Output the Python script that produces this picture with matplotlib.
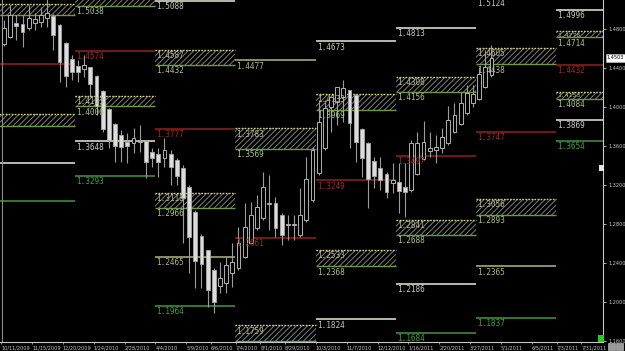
import matplotlib
matplotlib.use('Agg')
import matplotlib.pyplot as plt
from matplotlib.patches import Rectangle
import matplotlib.transforms as mtransforms

plt.rcParams['hatch.linewidth'] = 0.7

# ---------------- data ----------------
# weekly candles (EUR/USD style), index 0 = week of 10/11/2009
opens = [1.4646, 1.4718, 1.4861, 1.4851, 1.4810, 1.4861, 1.4871, 1.4912, 1.4933, 1.4841,
         1.4656, 1.4492, 1.4420, 1.4389, 1.4410, 1.4318, 1.4164, 1.3979, 1.3825, 1.3712,
         1.3641, 1.3630, 1.3641, 1.3651, 1.3538, 1.3518, 1.3477, 1.3518, 1.3456, 1.3374,
         1.3179, 1.2923, 1.2677, 1.2533, 1.2328, 1.2164, 1.2194, 1.2297, 1.2348, 1.2461,
         1.2605, 1.2759, 1.2861, 1.3005, 1.3015, 1.2892, 1.2790, 1.2790, 1.2687, 1.2841,
         1.3046, 1.3323, 1.3579, 1.4000, 1.4056, 1.4107, 1.4179, 1.4118, 1.3774, 1.3630,
         1.3446, 1.3374, 1.3313, 1.3220, 1.3230, 1.3179, 1.3149, 1.3313, 1.3466, 1.3549,
         1.3559, 1.3579, 1.3630, 1.3744, 1.3825, 1.3938, 1.4041, 1.4082, 1.4205, 1.4328]
highs = [1.4892, 1.5046, 1.4943, 1.4943, 1.5046, 1.4964, 1.5025, 1.5149, 1.4954, 1.4851,
         1.4666, 1.4533, 1.4482, 1.4533, 1.4410, 1.4328, 1.4174, 1.3989, 1.3836, 1.3764,
         1.3733, 1.3784, 1.3815, 1.3661, 1.3579, 1.3579, 1.3682, 1.3559, 1.3477, 1.3405,
         1.3200, 1.2943, 1.2697, 1.2533, 1.2348, 1.2410, 1.2461, 1.2605, 1.2769, 1.3015,
         1.3025, 1.3097, 1.3333, 1.3302, 1.3077, 1.2913, 1.2892, 1.2892, 1.3169, 1.3487,
         1.3589, 1.4071, 1.4071, 1.4020, 1.4071, 1.4276, 1.4000, 1.4118, 1.3784, 1.3641,
         1.3487, 1.3487, 1.3333, 1.3425, 1.3425, 1.3425, 1.3661, 1.3743, 1.3856, 1.3743,
         1.3713, 1.3784, 1.4010, 1.4041, 1.4154, 1.4225, 1.4225, 1.4410, 1.4584, 1.4636]
lows = [1.4626, 1.4707, 1.4687, 1.4615, 1.4790, 1.4790, 1.4820, 1.4820, 1.4584, 1.4256,
        1.4205, 1.4277, 1.4256, 1.4307, 1.4102, 1.3917, 1.3743, 1.3579, 1.3435, 1.3435,
        1.3425, 1.3528, 1.3538, 1.3271, 1.3384, 1.3282, 1.3384, 1.3200, 1.3200, 1.2610,
        1.2297, 1.2143, 1.2143, 1.1948, 1.1887, 1.2092, 1.2092, 1.2153, 1.2328, 1.2451,
        1.2605, 1.2738, 1.2841, 1.2738, 1.2667, 1.2584, 1.2636, 1.2636, 1.2667, 1.2820,
        1.3025, 1.3302, 1.3559, 1.3743, 1.3815, 1.3846, 1.3579, 1.3436, 1.3282, 1.2964,
        1.3169, 1.3149, 1.3066, 1.3118, 1.2913, 1.2872, 1.3128, 1.3302, 1.3456, 1.3487,
        1.3425, 1.3528, 1.3610, 1.3733, 1.3815, 1.3918, 1.4000, 1.4071, 1.4195, 1.4307]
closes = [1.4810, 1.4943, 1.4830, 1.4769, 1.4912, 1.4902, 1.4943, 1.4964, 1.4738, 1.4461,
          1.4318, 1.4359, 1.4359, 1.4430, 1.4236, 1.4010, 1.3774, 1.3661, 1.3600, 1.3589,
          1.3600, 1.3682, 1.3651, 1.3435, 1.3477, 1.3436, 1.3559, 1.3384, 1.3292, 1.3066,
          1.2667, 1.2420, 1.2389, 1.2123, 1.2000, 1.2246, 1.2379, 1.2410, 1.2605, 1.2769,
          1.2892, 1.2974, 1.3179, 1.3015, 1.2758, 1.2687, 1.2800, 1.2800, 1.2892, 1.3261,
          1.3559, 1.3846, 1.3989, 1.4100, 1.4200, 1.4190, 1.3836, 1.3641, 1.3477, 1.3261,
          1.3292, 1.3251, 1.3128, 1.3251, 1.3138, 1.3128, 1.3630, 1.3630, 1.3641, 1.3579,
          1.3589, 1.3692, 1.3866, 1.3917, 1.4041, 1.4144, 1.4133, 1.4338, 1.4410, 1.4503]

date_labels = ['10/11/2009', '11/15/2009', '12/20/2009', '1/24/2010', '2/28/2010', '4/4/2010',
               '5/9/2010', '6/6/2010', '7/4/2010', '8/1/2010', '8/29/2010', '10/3/2010',
               '11/7/2010', '12/12/2010', '1/16/2011', '2/20/2011', '3/27/2011', '5/1/2011',
               '6/5/2011', '7/3/2011', '7/31/2011']
date_weeks = [0, 5, 10, 15, 20, 25, 30, 34, 38, 42, 46, 51, 56, 61, 66, 71, 76, 81, 86, 90, 94]

price_ticks = [1.16, 1.20, 1.24, 1.28, 1.32, 1.36, 1.40, 1.44, 1.48]
last_price = 1.4503

# quarterly blocks: start week index (block spans 13 weeks)
block_starts = [-1.5, 11.5, 24.5, 37.5, 50.5, 63.5, 76.5, 89.5]

# plain levels
line_block = [0, 0, 0, 1, 1, 1, 2, 2, 2, 2, 3, 3, 4, 4, 4, 5, 5, 5, 5, 6, 6, 6, 6, 7, 7, 7, 7]
line_price = [1.4441, 1.3426, 1.3036, 1.4574, 1.3648, 1.3293, 1.5088, 1.3777, 1.2465, 1.1964,
              1.4477, 1.2661, 1.4673, 1.3249, 1.1824, 1.4813, 1.3497, 1.2186, 1.1684,
              1.5124, 1.3747, 1.2365, 1.1837, 1.4996, 1.4432, 1.3869, 1.3654]
line_kind = ['red', 'light', 'green', 'red', 'light', 'green', 'light', 'red', 'olive', 'green',
             'olive', 'red', 'light', 'red', 'light', 'light', 'red', 'light', 'green',
             'light', 'red', 'olive', 'green', 'light', 'red', 'light', 'green']
line_label = [None, None, None, '1.4574', '1.3648', '1.3293', '1.5088', '1.3777', '1.2465', '1.1964',
              '1.4477', '1.2661', '1.4673', '1.3249', '1.1824', '1.4813', '1.3497', '1.2186', '1.1684',
              '1.5124', '1.3747', '1.2365', '1.1837', '1.4996', '1.4432', '1.3869', '1.3654']

# hatched zones
zone_block = [0, 0, 1, 1, 2, 2, 3, 3, 4, 4, 5, 5, 6, 6, 7, 7]
zone_top = [1.5056, 1.3928, 1.5150, 1.4113, 1.4587, 1.3118, 1.3783, 1.1759, 1.4133, 1.2533,
            1.4308, 1.2841, 1.4605, 1.3056, 1.4778, 1.4153]
zone_bottom = [1.4944, 1.3805, 1.5038, 1.4006, 1.4432, 1.2966, 1.3569, 1.1600, 1.3969, 1.2368,
               1.4156, 1.2688, 1.4438, 1.2893, 1.4714, 1.4084]
zone_top_label = [None, None, None, '1.4113', '1.4587', '1.3118', '1.3783', '1.1759', '1.4133', '1.2533',
                  '1.4308', '1.2841', '1.4605', '1.3056', '1.4778', '1.4153']
zone_bottom_label = [None, None, '1.5038', '1.4006', '1.4432', '1.2966', '1.3569', None, '1.3969', '1.2368',
                     '1.4156', '1.2688', '1.4438', '1.2893', '1.4714', '1.4084']

# ---------------- drawing ----------------
BLOCK_LEN = 13
kind_color = {'red': '#8c1c1c', 'light': '#d8d8c8', 'olive': '#a8a874', 'green': '#3c8c3c'}
label_color = {'red': '#a02828', 'light': '#c8c8b8', 'olive': '#b4b48c', 'green': '#3f9f3f'}

fig = plt.figure(figsize=(6.25, 3.51), dpi=100, facecolor='black')
ax = fig.add_axes([0, 9 / 351, 603 / 625, 342 / 351])
ax.set_facecolor('black')

x_left, x_right = -0.648, 97.08
y_top, y_bot = 1.50974, 1.15897
ax.set_xlim(x_left, x_right)
ax.set_ylim(y_bot, y_top)

FONT = 'DejaVu Sans Mono'
FS = 5.6
down = mtransforms.offset_copy(ax.transData, fig=fig, x=0.8, y=-1.0, units='points')

# zones
for b, t, bt, tl, bl in zip(zone_block, zone_top, zone_bottom, zone_top_label, zone_bottom_label):
    x0 = block_starts[b]
    thin = (t - bt) < 0.009
    ax.add_patch(Rectangle((x0, bt), BLOCK_LEN, t - bt, facecolor='black', edgecolor='#7c7c7c',
                           hatch='//////', lw=0, zorder=1))
    ax.hlines(t, x0, x0 + BLOCK_LEN, colors='#d0d088', lw=1.0, linestyles=(0, (1.2, 1.0)), zorder=2)
    ax.hlines(bt, x0, x0 + BLOCK_LEN, colors='#6e9a46', lw=1.0, zorder=2)
    if tl:
        ax.text(x0, t, tl, transform=down, color='#b8b888', fontsize=(4.6 if thin else FS),
                family=FONT, va='top', ha='left', zorder=6, clip_on=True)
    if bl:
        ax.text(x0, bt, bl, transform=down, color='#a8c488', fontsize=FS, family=FONT,
                va='top', ha='left', zorder=6, clip_on=True)

# lines
for b, p, k, lab in zip(line_block, line_price, line_kind, line_label):
    x0 = block_starts[b]
    ax.hlines(p, x0, x0 + BLOCK_LEN, colors=kind_color[k], lw=1.2, zorder=2)
    if lab:
        ax.text(x0, p, lab, transform=down, color=label_color[k], fontsize=FS, family=FONT,
                va='top', ha='left', zorder=6, clip_on=True)

# left border line
ax.axvline(-0.32, color='#8a8a8a', lw=0.8, zorder=3)

# candles
bw = 0.62
for i, (o, h, l, c) in enumerate(zip(opens, highs, lows, closes)):
    ax.vlines(i, l, h, colors='#9c9c9c', lw=0.8, zorder=4)
    lo, hi = min(o, c), max(o, c)
    if c < o:
        ax.add_patch(Rectangle((i - bw / 2, lo), bw, max(hi - lo, 0.0004), facecolor='#dcdcdc',
                               edgecolor='#a8a8a8', lw=0.6, zorder=5))
    else:
        ax.add_patch(Rectangle((i - bw / 2, lo), bw, max(hi - lo, 0.0004), facecolor='black',
                               edgecolor='#b0b0b0', lw=0.7, zorder=5))

# axes styling
for s in ['top', 'left']:
    ax.spines[s].set_visible(False)
ax.spines['right'].set_color('#c8c8c8')
ax.spines['right'].set_linewidth(0.8)
ax.spines['bottom'].set_color('#c8c8c8')
ax.spines['bottom'].set_linewidth(0.8)

ax.yaxis.tick_right()
ax.set_yticks(price_ticks)
ax.set_yticklabels([f'{v:.4f}' for v in price_ticks])
ax.tick_params(axis='y', colors='#c8c8c8', labelsize=3.6, length=2.5, width=0.6, pad=1.5,
               labelcolor='#c8c8c8')

ax.set_xticks([w - 0.45 for w in date_weeks])
ax.set_xticklabels(date_labels, ha='left')
ax.tick_params(axis='x', colors='#c8c8c8', labelsize=3.6, length=1.5, width=0.5, pad=1.0)

# current price box
ax.text(1.0065, last_price, f'{last_price:.4f}', transform=ax.get_yaxis_transform(),
        fontsize=3.6, color='black', va='center', ha='left',
        bbox=dict(boxstyle='square,pad=0.25', facecolor='white', edgecolor='#c8c8c8', lw=0.4),
        clip_on=False)

# small chart-window widgets (shift marker, status square, scroll buttons)
fig.patches.append(Rectangle((599 / 625, (351 - 171) / 351), 5 / 625, 6 / 351, transform=fig.transFigure,
                             facecolor='#e8e8e8', edgecolor='none'))
fig.patches.append(Rectangle((598 / 625, (351 - 342) / 351), 6 / 625, 7 / 351, transform=fig.transFigure,
                             facecolor='#22cc22', edgecolor='none'))
fig.patches.append(Rectangle((608 / 625, 1 / 351), 7 / 625, 7 / 351, transform=fig.transFigure,
                             facecolor='#9a9a9a', edgecolor='#d0d0d0', lw=0.4))
fig.patches.append(Rectangle((616 / 625, 1 / 351), 7 / 625, 7 / 351, transform=fig.transFigure,
                             facecolor='#9a9a9a', edgecolor='#d0d0d0', lw=0.4))

fig.savefig('out.png', dpi=100, facecolor='black')
